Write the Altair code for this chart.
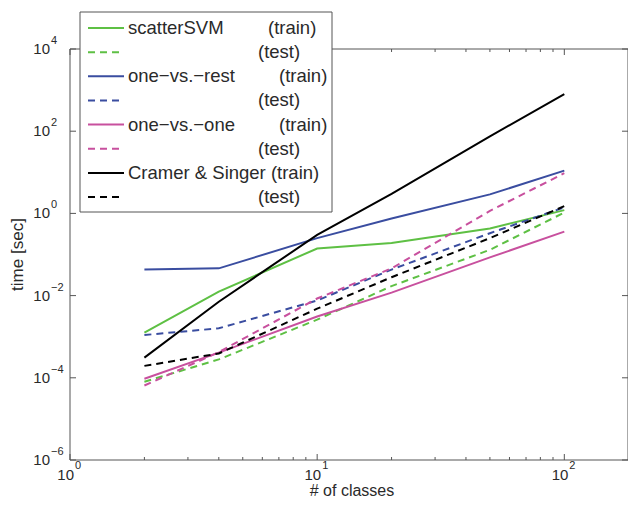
import altair as alt
import pandas as pd

# ---------------- data ----------------
classes = [2, 4, 10, 20, 50, 100]

scatter_train = [1.26e-3, 1.25e-2, 0.14, 0.19, 0.43, 1.2]
scatter_test = [8.0e-5, 2.8e-4, 2.6e-3, 1.7e-2, 0.13, 1.05]
ovr_train = [0.043, 0.046, 0.25, 0.75, 2.9, 11.0]
ovr_test = [1.1e-3, 1.6e-3, 7.6e-3, 0.043, 0.33, 1.4]
ovo_train = [9.5e-5, 4.1e-4, 3.1e-3, 0.0118, 0.085, 0.36]
ovo_test = [6.5e-5, 4.2e-4, 8.5e-3, 0.046, 1.15, 9.5]
cs_train = [3.1e-4, 7.1e-3, 0.30, 3.0, 75.0, 800.0]
cs_test = [1.95e-4, 3.9e-4, 4.8e-3, 0.028, 0.25, 1.5]

method_names = ["scatterSVM", "one\u2212vs.\u2212rest", "one\u2212vs.\u2212one", "Cramer & Singer"]
method_colors = ["#5ec044", "#3a4da0", "#c8509e", "#000000"]
train_series = [scatter_train, ovr_train, ovo_train, cs_train]
test_series = [scatter_test, ovr_test, ovo_test, cs_test]

x_major_ticks = [1, 10, 100]
x_minor_ticks = [2, 3, 4, 5, 6, 7, 8, 9, 20, 30, 40, 50, 60, 70, 80, 90]
x_tick_exponents = ["0", "1", "2"]
y_major_ticks = [1e-6, 1e-4, 1e-2, 1e0, 1e2, 1e4]
y_tick_exponents = ["\u22126", "\u22124", "\u22122", "0", "2", "4"]

x_title = "# of classes"
y_title = "time [sec]"

# ---------------- layout ----------------
W, H = 558, 411
FONT = "Liberation Sans"
FRAME = "#555555"
TXT = "#2a2a2a"
DASH = [7, 5]

xscale = alt.Scale(type="log", domain=[1, 181], nice=False)
yscale = alt.Scale(type="log", domain=[1e-6, 1e4], nice=False)

one = pd.DataFrame({"a": [0]})
layers = []

# plot frame (four rules)
for (x1, x2, y1, y2) in ((0, W, 0, 0), (0, W, H, H), (0, 0, 0, H), (W, W, 0, H)):
    enc = dict(x=alt.value(x1), y=alt.value(y1))
    if x1 != x2:
        enc["x2"] = alt.value(x2)
    if y1 != y2:
        enc["y2"] = alt.value(y2)
    layers.append(alt.Chart(one).mark_rule(color=FRAME, strokeWidth=1).encode(**enc))

# data lines, in drawing order
for name, col, tr, te in zip(method_names, method_colors, train_series, test_series):
    for vals, dashed in ((tr, False), (te, True)):
        df = pd.DataFrame({"classes": classes, "time": vals})
        kw = dict(color=col, strokeWidth=2, clip=True)
        if dashed:
            kw["strokeDash"] = DASH
        layers.append(
            alt.Chart(df).mark_line(**kw).encode(
                x=alt.X("classes:Q", scale=xscale, axis=None),
                y=alt.Y("time:Q", scale=yscale, axis=None),
            )
        )

# inward ticks
xmaj = pd.DataFrame({"v": x_major_ticks})
xmin = pd.DataFrame({"v": x_minor_ticks})
ymaj = pd.DataFrame({"v": y_major_ticks})
for d, ln in ((xmaj, 6), (xmin, 3)):
    layers.append(alt.Chart(d).mark_rule(color=FRAME, strokeWidth=1).encode(
        x=alt.X("v:Q", scale=xscale, axis=None), y=alt.value(H), y2=alt.value(H - ln)))
    layers.append(alt.Chart(d).mark_rule(color=FRAME, strokeWidth=1).encode(
        x=alt.X("v:Q", scale=xscale, axis=None), y=alt.value(0), y2=alt.value(ln)))
layers.append(alt.Chart(ymaj).mark_rule(color=FRAME, strokeWidth=1).encode(
    y=alt.Y("v:Q", scale=yscale, axis=None), x=alt.value(0), x2=alt.value(6)))
layers.append(alt.Chart(ymaj).mark_rule(color=FRAME, strokeWidth=1).encode(
    y=alt.Y("v:Q", scale=yscale, axis=None), x=alt.value(W), x2=alt.value(W - 6)))

# tick labels
xlab = pd.DataFrame({"v": x_major_ticks, "e": x_tick_exponents})
ylab = pd.DataFrame({"v": y_major_ticks, "e": y_tick_exponents})
layers.append(alt.Chart(xlab).mark_text(font=FONT, fontSize=15, color=TXT, align="right",
                                        baseline="middle", dx=4).encode(
    x=alt.X("v:Q", scale=xscale, axis=None), y=alt.value(426), text=alt.value("10")))
layers.append(alt.Chart(xlab).mark_text(font=FONT, fontSize=11, color=TXT, align="left",
                                        baseline="middle", dx=5).encode(
    x=alt.X("v:Q", scale=xscale, axis=None), y=alt.value(417), text="e:N"))
layers.append(alt.Chart(ylab).mark_text(font=FONT, fontSize=15, color=TXT, align="right",
                                        baseline="middle").encode(
    y=alt.Y("v:Q", scale=yscale, axis=None), x=alt.value(-20), text=alt.value("10")))
layers.append(alt.Chart(ylab).mark_text(font=FONT, fontSize=11, color=TXT, align="left",
                                        baseline="middle", dy=-8).encode(
    y=alt.Y("v:Q", scale=yscale, axis=None), x=alt.value(-19), text="e:N"))

# axis titles
layers.append(alt.Chart(one).mark_text(font=FONT, fontSize=16, color=TXT, align="center",
                                       baseline="alphabetic").encode(
    x=alt.value(282), y=alt.value(447), text=alt.value(x_title)))
layers.append(alt.Chart(one).mark_text(font=FONT, fontSize=17, color=TXT, align="center",
                                       baseline="middle", angle=270).encode(
    x=alt.value(-52), y=alt.value(H / 2), text=alt.value(y_title)))

# legend box
layers.append(alt.Chart(one).mark_rect(fill="white", stroke=FRAME, strokeWidth=1).encode(
    x=alt.value(10), x2=alt.value(262), y=alt.value(-37), y2=alt.value(163)))

LEG_FS = 18.5
train_x = [198, 209, 209, None]
row = 0
for name, col, tx in zip(method_names, method_colors, train_x):
    for dashed in (False, True):
        yy = -21 + row * 24.15
        kw = dict(color=col, strokeWidth=2)
        if dashed:
            kw["strokeDash"] = DASH
        layers.append(alt.Chart(one).mark_rule(**kw).encode(
            x=alt.value(18), x2=alt.value(54), y=alt.value(yy)))
        if not dashed:
            if tx is None:
                layers.append(alt.Chart(one).mark_text(font=FONT, fontSize=LEG_FS, color=TXT,
                                                       align="left", baseline="middle").encode(
                    x=alt.value(58), y=alt.value(yy), text=alt.value(name + " (train)")))
            else:
                layers.append(alt.Chart(one).mark_text(font=FONT, fontSize=LEG_FS, color=TXT,
                                                       align="left", baseline="middle").encode(
                    x=alt.value(58), y=alt.value(yy), text=alt.value(name)))
                layers.append(alt.Chart(one).mark_text(font=FONT, fontSize=LEG_FS, color=TXT,
                                                       align="left", baseline="middle").encode(
                    x=alt.value(tx), y=alt.value(yy), text=alt.value("(train)")))
        else:
            layers.append(alt.Chart(one).mark_text(font=FONT, fontSize=LEG_FS, color=TXT,
                                                   align="left", baseline="middle").encode(
                x=alt.value(188), y=alt.value(yy), text=alt.value("(test)")))
        row += 1

chart = alt.layer(*layers).properties(
    width=W,
    height=H,
    padding={"left": 62, "top": 41, "right": 0, "bottom": 39},
    autosize=alt.AutoSizeParams(type="none"),
    background="white",
).configure_view(strokeWidth=0)

chart.save("out.html", embed_options={"renderer": "svg", "actions": False})
